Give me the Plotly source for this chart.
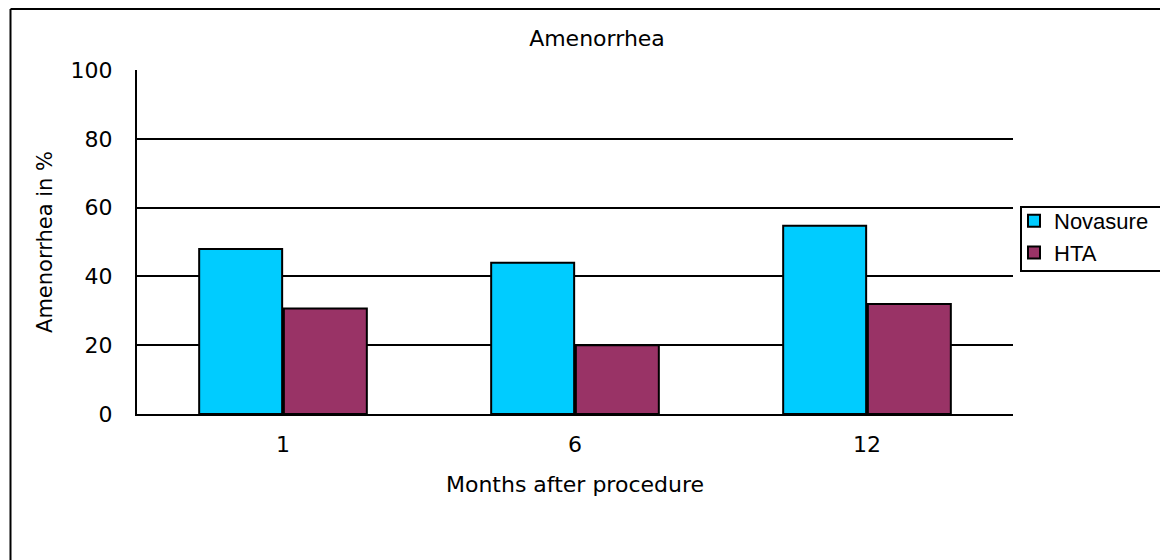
import plotly.graph_objects as go

categories = ["1", "6", "12"]
novasure = [48, 44, 54.7]
hta = [30.7, 20, 32]

fig = go.Figure()
fig.add_trace(go.Bar(x=categories, y=novasure, name="Novasure",
                     marker=dict(color="#00CCFF", line=dict(color="black", width=2))))
fig.add_trace(go.Bar(x=categories, y=hta, name="HTA",
                     marker=dict(color="#993366", line=dict(color="black", width=2))))

font_main = "DejaVu Sans"
# page offset of 8px (body margin)
L, R, T, B = 129, 1005, 62, 406
W, H = R - L, B - T


def px(x):
    return (x - L) / W


def py(y):
    return (B - y) / H


fig.update_layout(
    width=1168, height=560,
    margin=dict(l=L, r=1168 - R, t=T, b=560 - B, autoexpand=False),
    paper_bgcolor="white", plot_bgcolor="white",
    barmode="group", bargap=0.42, bargroupgap=0.02,
    title=dict(text="Amenorrhea", x=589/1168, xanchor="center", y=1-30/560, yanchor="middle",
               font=dict(family=font_main, size=22, color="black")),
    font=dict(family=font_main, size=20, color="black"),
    legend=dict(x=1006/1168, xref="container", xanchor="left", y=1-192/560, yref="container", yanchor="top",
                borderwidth=0, bgcolor="rgba(0,0,0,0)",
                font=dict(family="Liberation Sans", size=22, color="black"),
                itemwidth=30, tracegroupgap=0),
    xaxis=dict(showline=True, linecolor="black", linewidth=2, ticks="",
               ticklabelstandoff=10,
               title=dict(text="Months after procedure", standoff=20,
                          font=dict(family=font_main, size=22, color="black")),
               tickfont=dict(size=22)),
    yaxis=dict(range=[0, 100], dtick=20, showgrid=True, gridcolor="black", gridwidth=2,
               showline=True, linecolor="black", linewidth=2, ticks="", zeroline=False,
               ticklabelstandoff=18,
               title=dict(text="Amenorrhea in %", standoff=12,
                          font=dict(family=font_main, size=21, color="black")),
               tickfont=dict(size=22)),
    shapes=[
        dict(type="line", xref="paper", yref="paper", x0=px(2.5), x1=1.3,
             y0=py(1), y1=py(1), line=dict(color="black", width=2)),
        dict(type="line", xref="paper", yref="paper", x0=px(2.5), x1=px(2.5),
             y0=py(1), y1=-0.6, line=dict(color="black", width=2)),
        dict(type="rect", xref="paper", yref="paper", x0=px(1013), x1=px(1157),
             y0=py(263), y1=py(199), line=dict(color="black", width=2), fillcolor="white",
             layer="below"),
    ],
)
fig.write_html("out.html")
